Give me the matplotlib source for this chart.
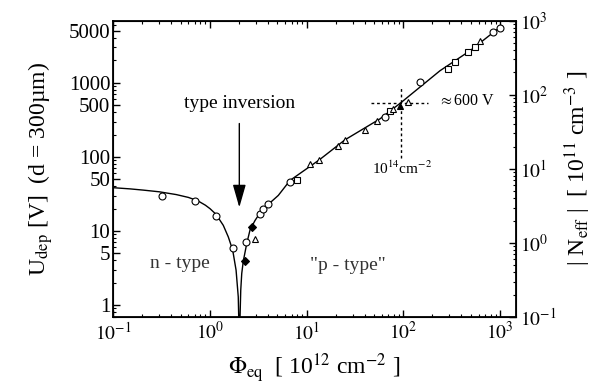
import numpy as np
import matplotlib.pyplot as plt
from matplotlib.ticker import LogLocator, FixedLocator, NullFormatter

plt.rcParams['font.family'] = ['Liberation Serif', 'DejaVu Serif']
plt.rcParams['mathtext.fontset'] = 'stix'

# fit curve (fluence in 1e12 cm^-2, depletion voltage in V)
curve_phi = [0.1, 0.15, 0.206, 0.3, 0.45, 0.6, 0.75, 0.9, 1.006, 1.16, 1.38, 1.555, 1.726, 1.87, 1.97, 2.02,
             2.09, 2.14, 2.22, 2.41, 2.61, 2.94, 3.30, 4.03, 5.11, 6.75, 13.6, 25.0, 57.5, 94.8,
             240, 490, 1042]
curve_u = [38.4, 37.0, 35.6, 33.8, 31.0, 28.4, 25.6, 22.3, 20.0, 16.8, 11.9, 8.3, 5.5, 2.96, 1.29, 0.3,
           1.59, 2.67, 3.91, 6.76, 10.4, 13.9, 17.5, 22.9, 30.2, 48.1, 91.4, 170, 326, 540,
           1455, 2704, 5870]

# measured points, by marker type
circ_phi = [0.318, 0.704, 1.16, 1.75, 2.39, 3.30, 3.58, 4.03, 6.75, 64.7, 149, 853, 1000]
circ_u = [29.3, 25.3, 15.8, 5.98, 7.05, 17.1, 20.0, 22.9, 45.7, 342, 1012, 4770, 5570]
sq_phi = [7.92, 72.9, 292, 343, 470, 552]
sq_u = [49.0, 421, 1535, 1885, 2570, 3000]
tri_phi = [2.94, 10.9, 13.6, 21.3, 25.0, 40.2, 53.2, 78.9, 113, 621]
tri_u = [7.9, 79, 89.5, 142, 170, 232, 302, 444, 545, 3690]
dia_phi = [2.29, 2.71]
dia_u = [3.91, 11.3]
ftri_phi = [92.5]
ftri_u = [492]

fig = plt.figure(figsize=(5.95, 3.89), dpi=100)
ax = fig.add_axes([0.190, 0.185, 0.677, 0.762])

ax.plot(curve_phi, curve_u, color='black', lw=1.0, zorder=2)
mk = dict(ms=5, mew=0.8, ls='none', color='black', zorder=3)
ax.plot(circ_phi, circ_u, marker='o', mfc='white', **mk)
ax.plot(sq_phi, sq_u, marker='s', mfc='white', **mk)
ax.plot(tri_phi, tri_u, marker='^', mfc='white', **mk)
ax.plot(dia_phi, dia_u, marker='D', mfc='black', ms=4, mew=0.8, ls='none', color='black', zorder=3)
ax.plot(ftri_phi, ftri_u, marker='^', mfc='black', **mk)

ax.set_xscale('log')
ax.set_yscale('log')
ax.set_xlim(0.1, 1460)
ax.set_ylim(0.69, 6900)

ax.xaxis.set_major_locator(FixedLocator([0.1, 1, 10, 100, 1000]))
ax.set_xticklabels([r'$10^{-1}$', r'$10^{0}$', r'$10^{1}$', r'$10^{2}$', r'$10^{3}$'])
ax.xaxis.set_minor_locator(LogLocator(base=10, subs=np.arange(2, 10)))
ax.xaxis.set_minor_formatter(NullFormatter())
yt = [1, 5, 10, 50, 100, 500, 1000, 5000]
ax.yaxis.set_major_locator(FixedLocator(yt))
ax.set_yticklabels([str(v) for v in yt])
ax.yaxis.set_minor_locator(LogLocator(base=10, subs=np.arange(2, 10)))
ax.yaxis.set_minor_formatter(NullFormatter())
ax.tick_params(which='both', direction='in', top=True, right=False, labelsize=14, pad=3)
ax.tick_params(axis='y', labelsize=15, pad=2)
ax.tick_params(which='major', length=5, width=1)
ax.tick_params(which='minor', length=2.5, width=0.8)
for s in ax.spines.values():
    s.set_linewidth(1.3)

ax2 = ax.twinx()
ax2.set_yscale('log')
ax2.set_ylim(0.1, 1000)
ax2.yaxis.set_major_locator(FixedLocator([0.1, 1, 10, 100, 1000]))
ax2.set_yticklabels([r'$10^{-1}$', r'$10^{0}$', r'$10^{1}$', r'$10^{2}$', r'$10^{3}$'])
ax2.yaxis.set_minor_locator(LogLocator(base=10, subs=np.arange(2, 10)))
ax2.yaxis.set_minor_formatter(NullFormatter())
ax2.tick_params(which='both', direction='in', labelsize=14, pad=3)
ax2.tick_params(which='major', length=5, width=1)
ax2.tick_params(which='minor', length=2.5, width=0.8)

ax.set_xlabel(r'$\Phi_{\rm eq}$  [ 10$^{12}$ cm$^{-2}$ ]', fontsize=17, labelpad=6)
ax.set_ylabel('U$_{\\rm dep}$ [V]  (d = 300\u00b5m)', fontsize=17, labelpad=10)
ax2.set_ylabel(r'| N$_{\rm eff}$ |  [ 10$^{11}$ cm$^{-3}$ ]', fontsize=17, labelpad=4)

# annotations
ax.text(2.05, 523, 'type inversion', ha='center', va='center', fontsize=14)
ax.annotate('', xy=(2.02, 20.8), xytext=(2.02, 282),
            arrowprops=dict(arrowstyle='-|>,head_length=0.7,head_width=0.2', color='black', lw=1.0,
                            mutation_scale=20, shrinkA=0, shrinkB=0))
ax.text(0.492, 3.68, 'n - type', ha='center', va='center', fontsize=14, color='#333333')
ax.text(26.9, 3.45, '"p - type"', ha='center', va='center', fontsize=14, color='#333333')
ax.plot([46.4, 180], [540, 540], color='black', ls=(0, (2, 2)), lw=1.0, zorder=1)
ax.plot([94.8, 94.8], [98, 914], color='black', ls=(0, (2, 2)), lw=1.0, zorder=1)
ax.text(228, 574, r'$\approx$600 V', ha='left', va='center', fontsize=11.5)
ax.text(97, 69.8, r'10$^{14}$cm$^{-2}$', ha='center', va='center', fontsize=11)

fig.savefig('out.png', dpi=100)
